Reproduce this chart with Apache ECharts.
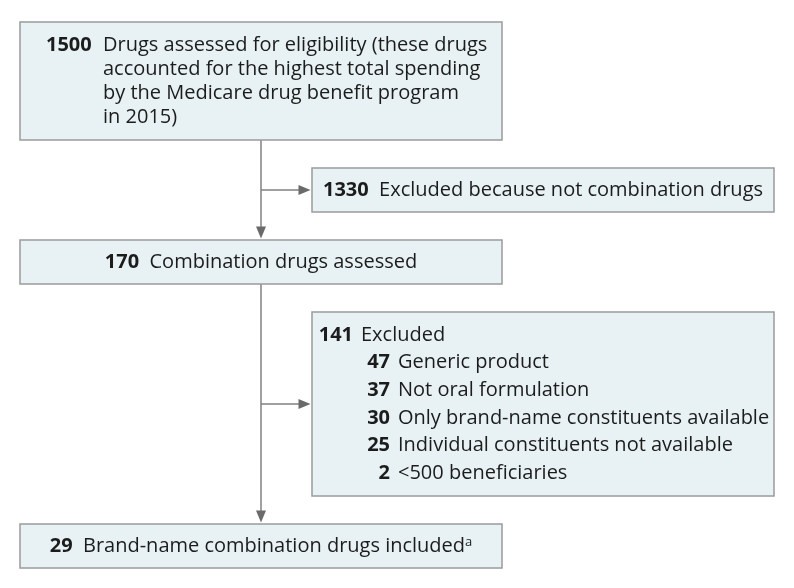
<!DOCTYPE html>
<html><head><meta charset="utf-8">
<script src="https://cdn.jsdelivr.net/npm/echarts@6/dist/echarts.min.js"></script>
<style>html,body{margin:0;padding:0;background:#fff}#c{width:794px;height:588px}</style>
</head><body><div id="c"></div>
<script>
// ---- data ----
const stepCounts = ['1500', '1330', '170', '141', '29'];
const stepLabels = [
  'Drugs assessed for eligibility (these drugs\naccounted for the highest total spending\nby the Medicare drug benefit program\nin 2015)',
  'Excluded because not combination drugs',
  'Combination drugs assessed',
  'Excluded',
  'Brand-name combination drugs included'
];
const stepNotes = ['', '', '', '', 'a'];
const exclusionCounts = ['47', '37', '30', '25', '2'];
const exclusionReasons = [
  'Generic product',
  'Not oral formulation',
  'Only brand-name constituents available',
  'Individual constituents not available',
  '<500 beneficiaries'
];

// ---- layout (pixel-space coordinates on a hidden 794x588 grid) ----
const LAYOUT = [
  { x0: 20, y0: 22, x1: 502, y1: 140, kind: 'para' },
  { x0: 312, y0: 168, x1: 774, y1: 212, kind: 'center' },
  { x0: 20, y0: 240, x1: 502, y1: 284, kind: 'center' },
  { x0: 312, y0: 312, x1: 774, y1: 496, kind: 'list' },
  { x0: 20, y0: 524, x1: 502, y1: 568, kind: 'center' }
];
const CONNECTORS = [
  { from: [261, 140], to: [261, 240] },
  { from: [261, 190], to: [312, 190] },
  { from: [261, 284], to: [261, 524] },
  { from: [261, 404], to: [312, 404] }
];

const FONT = '"Open Sans", "Noto Sans", sans-serif';
const FS = 20;
const TXT = '#1c1c1c';
const FILL = '#e8f2f4';
const BORDER = '#9b9b9b';
const LINE = '#808080';
const HEAD = '#6a6a6a';

const richBase = {
  b: { fontFamily: FONT, fontSize: FS, fontWeight: 'bold', fill: TXT, color: TXT },
  t: { fontFamily: FONT, fontSize: FS, fill: TXT, color: TXT },
  s: { fontFamily: FONT, fontSize: 13, fill: TXT, color: TXT, verticalAlign: 'top', lineHeight: 13 }
};

function txt(x, y, text, opts) {
  return {
    type: 'text',
    style: Object.assign({
      x: x, y: y, text: text, fill: TXT,
      fontFamily: FONT, fontSize: FS,
      align: 'left', verticalAlign: 'middle'
    }, opts || {})
  };
}

function renderBox(params, api) {
  const i = api.value(0);
  const L = LAYOUT[i];
  const p0 = api.coord([L.x0, L.y0]);
  const p1 = api.coord([L.x1, L.y1]);
  const x = Math.min(p0[0], p1[0]), y = Math.min(p0[1], p1[1]);
  const w = Math.abs(p1[0] - p0[0]), h = Math.abs(p1[1] - p0[1]);
  const children = [{
    type: 'rect',
    shape: { x: x, y: y, width: w, height: h },
    style: { fill: FILL, stroke: BORDER, lineWidth: 1.5 }
  }];
  const cy = y + h / 2;
  if (L.kind === 'para') {
    children.push(txt(x + 26, cy - 36, stepCounts[i], { fontWeight: 'bold' }));
    children.push(txt(x + 83, cy, stepLabels[i], { lineHeight: 24 }));
  } else if (L.kind === 'center') {
    let s = '{b|' + stepCounts[i] + '}  {t|' + stepLabels[i] + '}';
    if (stepNotes[i]) s += '{s|' + stepNotes[i] + '}';
    children.push(txt(x + w / 2, cy, s, { align: 'center', rich: richBase }));
  } else {
    const rowH = 27.6;
    const top = cy - rowH * 2.5;
    children.push(txt(x + 41, top, stepCounts[i], { fontWeight: 'bold', align: 'right' }));
    children.push(txt(x + 49, top, stepLabels[i]));
    for (let k = 0; k < exclusionCounts.length; k++) {
      const ry = top + rowH * (k + 1);
      children.push(txt(x + 78, ry, exclusionCounts[k], { fontWeight: 'bold', align: 'right' }));
      children.push(txt(x + 86, ry, exclusionReasons[k]));
    }
  }
  return { type: 'group', children: children };
}

function renderConnector(params, api) {
  const c = CONNECTORS[api.value(0)];
  const a = api.coord(c.from), b = api.coord(c.to);
  const dx = b[0] - a[0], dy = b[1] - a[1];
  const len = Math.sqrt(dx * dx + dy * dy);
  const ux = dx / len, uy = dy / len;
  const hl = 12, hw = 5;
  const tip = [b[0] - ux * 1.5, b[1] - uy * 1.5];
  const base = [tip[0] - ux * hl, tip[1] - uy * hl];
  return {
    type: 'group',
    children: [
      { type: 'line', shape: { x1: a[0], y1: a[1], x2: base[0] + ux * 2, y2: base[1] + uy * 2 },
        style: { stroke: LINE, lineWidth: 1.5 } },
      { type: 'polygon', shape: { points: [tip,
          [base[0] - uy * hw, base[1] + ux * hw],
          [base[0] + uy * hw, base[1] - ux * hw]] },
        style: { fill: HEAD } }
    ]
  };
}

const chart = echarts.init(document.getElementById('c'), null, { renderer: 'canvas' });
chart.setOption({
  animation: false,
  backgroundColor: '#ffffff',
  grid: { left: 0, right: 0, top: 0, bottom: 0 },
  xAxis: { type: 'value', min: 0, max: 794, show: false },
  yAxis: { type: 'value', min: 0, max: 588, inverse: true, show: false },
  series: [
    { type: 'custom', renderItem: renderConnector, data: CONNECTORS.map((c, i) => [i]), silent: true, z: 1 },
    { type: 'custom', renderItem: renderBox, data: stepCounts.map((c, i) => [i]), silent: true, z: 2 }
  ]
});
</script>
</body></html>
